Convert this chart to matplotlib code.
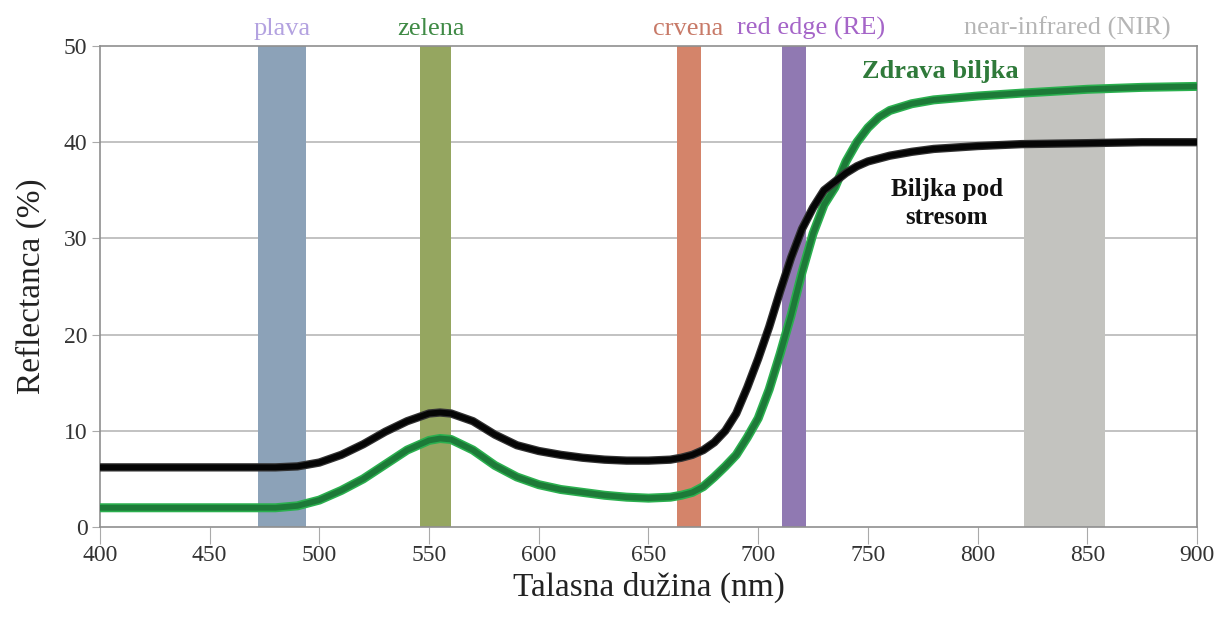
import matplotlib
matplotlib.use("Agg")
import matplotlib.pyplot as plt

# ---- data ----
wavelength = [400, 420, 440, 460, 480, 490, 500, 510, 520, 530, 540, 550, 555, 560,
              570, 580, 590, 600, 610, 620, 630, 640, 650, 660, 665, 670, 675, 680,
              685, 690, 695, 700, 705, 710, 715, 720, 725, 730, 735, 740, 745, 750,
              755, 760, 770, 780, 800, 820, 850, 875, 900]
healthy = [2.0, 2.0, 2.0, 2.0, 2.0, 2.2, 2.8, 3.8, 5.0, 6.5, 8.0, 9.0, 9.2, 9.1,
           8.0, 6.4, 5.2, 4.4, 3.9, 3.6, 3.3, 3.1, 3.0, 3.1, 3.3, 3.6, 4.2, 5.2,
           6.3, 7.5, 9.3, 11.3, 14.3, 18.0, 22.0, 26.5, 30.5, 33.5, 35.3, 38.0, 40.0, 41.5,
           42.6, 43.3, 44.0, 44.4, 44.8, 45.1, 45.5, 45.7, 45.8]
stressed = [6.2, 6.2, 6.2, 6.2, 6.2, 6.3, 6.7, 7.5, 8.6, 9.9, 11.0, 11.8, 11.9, 11.8,
            11.0, 9.6, 8.5, 7.9, 7.5, 7.2, 7.0, 6.9, 6.9, 7.0, 7.2, 7.5, 8.0, 8.8,
            10.0, 11.8, 14.5, 17.5, 20.8, 24.5, 28.0, 31.0, 33.2, 35.0, 35.9, 36.8, 37.5, 38.0,
            38.3, 38.6, 39.0, 39.3, 39.6, 39.8, 39.9, 40.0, 40.0]

band_names = ["plava", "zelena", "crvena", "red edge (RE)", "near-infrared (NIR)"]
band_start = [472, 546, 663, 711, 821]
band_end = [494, 560, 674, 722, 858]
band_colors = ["#8ca2b8", "#95a660", "#d4846a", "#9079b2", "#c3c3bf"]
label_colors = ["#b3a2e0", "#3f8a45", "#c87a68", "#a565c8", "#b5b5b5"]
label_x = [483, 551, 668, 724, 841]

x_ticks = [400, 450, 500, 550, 600, 650, 700, 750, 800, 850, 900]
y_ticks = [0, 10, 20, 30, 40, 50]

# ---- plot ----
plt.rcParams['font.family'] = ['Liberation Serif', 'DejaVu Serif']
fig = plt.figure(figsize=(12.31, 6.2), dpi=100)
ax = fig.add_axes([0.0812, 0.15, 0.8912, 0.7758])

for s, e, c in zip(band_start, band_end, band_colors):
    ax.axvspan(s, e, color=c, lw=0, zorder=1)

for yv in y_ticks[1:-1]:
    ax.axhline(yv, color="#b8b8b8", lw=1.2, zorder=0.5)

ax.plot(wavelength, healthy, color="#2bb04f", lw=6.5, solid_capstyle="butt", zorder=3)
ax.plot(wavelength, healthy, color="#1d7a38", lw=4.2, solid_capstyle="butt", zorder=3.1)
ax.plot(wavelength, stressed, color="#333333", lw=6.0, solid_capstyle="butt", zorder=4)
ax.plot(wavelength, stressed, color="#050505", lw=4.2, solid_capstyle="butt", zorder=4.1)

ax.set_xlim(400, 900)
ax.set_ylim(0, 50)
ax.set_xticks(x_ticks)
ax.set_yticks(y_ticks)
ax.tick_params(axis="x", length=12, color="#aaaaaa", labelsize=17, labelcolor="#333333", pad=1)
ax.tick_params(axis="y", length=6, color="#aaaaaa", labelsize=17, labelcolor="#333333", pad=3)
for sp in ax.spines.values():
    sp.set_color("#8f8f8f")
    sp.set_linewidth(1.2)

ax.set_xlabel("Talasna dužina (nm)", fontsize=24, color="#222222", labelpad=4)
ax.set_ylabel("Reflectanca (%)", fontsize=24, color="#222222", labelpad=12)

for name, lx, c in zip(band_names, label_x, label_colors):
    ax.text(lx, 50.6, name, ha="center", va="bottom", fontsize=19, color=c)

ax.text(783, 47.4, "Zdrava biljka", ha="center", va="center", fontsize=19,
        fontweight="bold", color="#2f7a3a")
ax.text(786, 33.6, "Biljka pod\nstresom", ha="center", va="center", fontsize=18,
        fontweight="bold", color="#111111", linespacing=1.3)

fig.savefig("out.png", dpi=100)
